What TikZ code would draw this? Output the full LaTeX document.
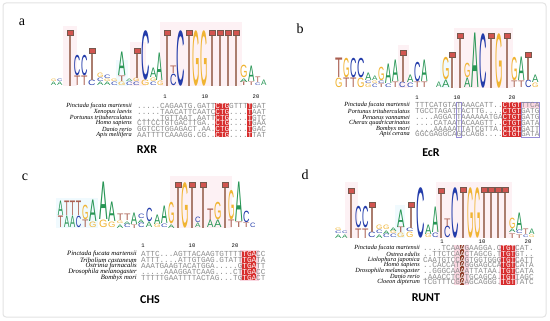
\documentclass[tikz,border=0pt]{standalone}
\usepackage{fontspec}
\usepackage{graphicx}
\setmainfont{Liberation Serif}
\newfontfamily\logofont{Liberation Sans}
\newfontfamily\monof{Liberation Mono}
\newfontfamily\lblf{Carlito}
\definecolor{cA}{RGB}{40,150,85}
\definecolor{cC}{RGB}{35,60,170}
\definecolor{cG}{RGB}{240,180,50}
\definecolor{cT}{RGB}{170,95,80}
\definecolor{tstem}{RGB}{170,125,110}
\definecolor{tsq}{RGB}{210,85,80}
\definecolor{hlred}{RGB}{215,45,45}
\definecolor{hlbrown}{RGB}{140,60,40}
\definecolor{hlpink}{RGB}{250,215,225}
\definecolor{hlpurp}{RGB}{150,140,215}
\definecolor{seqgray}{RGB}{140,140,140}
\newcommand\LG[5]{\node[inner sep=0pt,outer sep=0pt,anchor=south west] at (#1,#3) {\resizebox*{#2pt}{#4pt}{\logofont\color{c#5}#5}};}
\newcommand\STK[3]{%
  \xdef\curb{\baseY}%
  \foreach \L/\H in {#3}{%
    \pgfmathsetmacro\hh{\H-0.5}%
    \pgfmathsetmacro\ww{#2-0.6}%
    \edef\tmp{\noexpand\LG{#1}{\ww}{\curb}{\hh}{\L}}\tmp
    \pgfmathsetmacro\nb{\curb-\H}%
    \xdef\curb{\nb}%
  }%
}
\newcommand\TT[3]{\fill[tstem] (#1-0.8,#2+5) rectangle (#1+0.8,#3);
  \filldraw[fill=tsq,draw=tstem!70!black,line width=0.3pt] (#1-2.8,#2) rectangle (#1+2.8,#2+5.6);}
\newcommand\hw[1]{\textcolor{white}{#1}}
\newcommand\HB[5]{\fill[#5] ({#1+(#3-1)*4.6},#2-2.6) rectangle ({#1+(#3-1+#4)*4.6},#2+2.6);}
\tikzset{
  seqrow/.style={anchor=west,inner sep=0pt,text=seqgray,font=\monof\fontsize{7.6667}{8}\selectfont},
  spname/.style={anchor=east,inner sep=0pt,font=\itshape\fontsize{6.3}{7}\selectfont},
  posnum/.style={inner sep=0pt,font=\monof\fontsize{5.5}{6}\selectfont},
  panlbl/.style={inner sep=0pt,font=\fontsize{14}{14}\selectfont},
  genelbl/.style={inner sep=0pt,font=\lblf\bfseries\fontsize{12}{12}\selectfont},
  faint/.style={fill=hlpink,opacity=0.35},
  faintc/.style={fill=cyan!6}
}
\begin{document}
\begin{tikzpicture}[x=1pt,y=-1pt]
\useasboundingbox (0,0) rectangle (550,321);
\fill[white] (0,0) rectangle (550,321);
\draw[gray!22,line width=1pt,rounded corners=3pt] (3,3) rectangle (546,317);

% ---------- faint backgrounds ----------
\fill[faint] (160,22) rectangle (242,86);
\fill[faint] (63,26) rectangle (77,86);
\fill[faint] (130,42) rectangle (146,86);
\fill[faintc] (116,60) rectangle (128,86);
\fill[faint] (454,28) rectangle (513,88);
\fill[faint] (398,45) rectangle (409,88);
\fill[faintc] (440,60) rectangle (452,88);
\fill[faint] (170,176) rectangle (232,228);
\fill[faintc] (56,198) rectangle (98,228);
\fill[faint] (345,182) rectangle (358,238);
\fill[faint] (436,182) rectangle (512,238);
\fill[faintc] (395,205) rectangle (405,238);

% ---------- panel labels ----------
\node[panlbl] (la) at (22,22) {a};
\node[panlbl] (lb) at (300,29) {b};
\node[panlbl] (lc) at (25,177) {c};
\node[panlbl] (ld) at (305,175) {d};

% ================= Panel a logo =================
\def\baseY{86}
\STK{51}{6}{A/4,G/3}
\STK{57}{6}{A/4,C/3}
\TT{70}{30}{86}
\STK{74}{7}{T/10,C/21}
\STK{81}{7}{T/10,C/21}
\STK{88}{8}{C/6}
\TT{92}{48}{80}
\STK{97}{7}{A/4,C/4,G/5}
\STK{104}{7}{A/4,G/3,C/4}
\STK{111}{7}{C/4,G/3}
\STK{118}{8}{G/4,T/6,A/24}
\STK{126}{7}{C/4,A/3}
\STK{133}{7}{C/4,G/4}
\TT{137}{48}{78}
\STK{141}{9}{G/6,C/50}
\STK{150}{7}{C/4,G/4,A/10}
\STK{157}{7}{G/5,A/28}
\TT{167}{30}{86}
\STK{170}{7}{C/12,T/8}
\STK{176}{9}{C/56}
\TT{189}{30}{86}
\STK{192}{8}{G/56}
\STK{200}{8}{G/56}
\TT{212}{30}{86}
\TT{220}{30}{86}
\TT{228}{30}{86}
\TT{236}{30}{86}
\STK{240}{8}{T/4,A/4,G/13}
\STK{248}{7}{T/4,A/16}
\STK{255}{6}{C/3,T/6}
\STK{261}{6}{A/6}

% panel a alignment
\node[posnum] (an1) at (165,97) {1};
\node[posnum] (an10) at (205,97) {10};
\node[posnum] (an20) at (256,97) {20};
\def\xa{137}
\foreach \yy in {106,112,117.5,123,129,134.5}{
  \HB{\xa}{\yy}{18}{3}{hlred}
  \HB{\xa}{\yy}{25}{1}{hlred}
}
\node[spname] (sa1) at (132,106) {Pinctada fucata martensii};
\node[spname] (sa2) at (132,112) {Xenopus laevis};
\node[spname] (sa3) at (132,117.5) {Portunus trituberculatus};
\node[spname] (sa4) at (132,123) {Homo sapiens};
\node[spname] (sa5) at (132,129) {Danio rerio};
\node[spname] (sa6) at (132,134.5) {Apis mellifera};
\node[seqrow] (qa1) at (\xa,106) {.....CAGAATG.GATT\hw{CTG}GTTT\hw{T}GAT};
\node[seqrow] (qa2) at (\xa,112) {.....TAACATTCAATC\hw{CTG}....\hw{T}AAT};
\node[seqrow] (qa3) at (\xa,117.5) {.....TGTTAAT.AATT\hw{CTG}....\hw{T}GTC};
\node[seqrow] (qa4) at (\xa,123) {CTTCCTGTGACTTGA..\hw{CTG}....\hw{T}GAA};
\node[seqrow] (qa5) at (\xa,129) {GGTCCTGGAGACT.AA.\hw{CTG}....\hw{T}GAC};
\node[seqrow] (qa6) at (\xa,134.5) {AATTTTCAAAGG.CG..\hw{CTG}....\hw{T}TAT};
\node[genelbl] (rxr) at (147,150) {RXR};

% ================= Panel b logo =================
\def\baseY{88}
\STK{335}{8}{G/10,T/20}
\STK{343}{7}{T/10,G/20}
\STK{350}{7}{T/10,C/20}
\STK{357}{8}{G/10,C/20}
\STK{365}{7}{G/4,C/3,A/8}
\STK{372}{6}{C/4,G/3,A/5}
\STK{378}{7}{T/4,C/3,G/14}
\STK{385}{7}{C/4,A/20}
\STK{392}{7}{T/6,A/22}
\STK{399}{7}{C/6}
\TT{403}{50}{82}
\STK{407}{7}{C/5,A/8}
\STK{414}{7}{T/6,C/20}
\STK{421}{7}{T/6,A/22}
\STK{436}{6}{A/6}
\STK{442}{8}{A/8,G/23}
\TT{452}{52}{88}
\TT{460}{33}{88}
\STK{464}{7}{A/10,G/15}
\STK{471}{8}{A/55}
\STK{479}{8}{C/55}
\TT{491}{33}{88}
\STK{495}{8}{G/55}
\TT{507}{33}{88}
\STK{511}{7}{T/7,G/24}
\STK{518}{7}{T/7,A/24}
\STK{525}{7}{C/8}
\TT{528}{52}{80}
\STK{532}{7}{G/5,A/8}

% panel b alignment
\node[posnum] (bn1) at (417,98) {1};
\node[posnum] (bn10) at (457,98) {10};
\node[posnum] (bn20) at (512,98) {20};
\def\xb{415}
\fill[hlred] ({\xb+19*4.6},102) rectangle ({\xb+23*4.6},137);
\fill[hlpink] ({\xb+23*4.6},102.4) rectangle ({\xb+27*4.6},107.6);
\draw[hlpurp,line width=0.5pt] ({\xb+23*4.6},102) rectangle ({\xb+27*4.6},137);
\draw[hlpurp,line width=0.5pt] ({\xb+9*4.6},102) rectangle ({\xb+10*4.6},137);
\node[spname] (sb1) at (410,105) {Pinctada fucata martensii};
\node[spname] (sb2) at (410,111) {Portunus trituberculatus};
\node[spname] (sb3) at (410,117) {Penaeus vannamei};
\node[spname] (sb4) at (410,123) {Cherax quadricarinatus};
\node[spname] (sb5) at (410,128.5) {Bombyx mori};
\node[spname] (sb6) at (410,134) {Apis cerana};
\node[seqrow] (qb1) at (\xb,105) {TTTCATGTATAAACATT..\hw{CTGT}TTCA};
\node[seqrow] (qb2) at (\xb,111) {TGCCTAGATTACTTG....\hw{CTGT}GATG};
\node[seqrow] (qb3) at (\xb,117) {....AGGATTAAAAAATGA\hw{CTGT}GATG};
\node[seqrow] (qb4) at (\xb,123) {....CATAATACAAGTT..\hw{CTGT}GATA};
\node[seqrow] (qb5) at (\xb,128.5) {....AAAAATTATCGTTA.\hw{CTGT}GATT};
\node[seqrow] (qb6) at (\xb,134) {GGCGAGGCAGCCAGG....\hw{CTGT}GATA};
\node[genelbl] (ecr) at (431,153) {EcR};

% ================= Panel c logo =================
\def\baseY{228}
\STK{58}{6}{T/12,A/15}
\STK{64}{6}{A/12,T/15}
\STK{70}{6}{A/12,T/15}
\STK{76}{6}{C/12,T/15}
\STK{82}{7}{T/8,G/15}
\STK{89}{8}{G/6,A/22}
\STK{99}{9}{G/8,A/38}
\STK{108}{8}{G/6,A/20}
\STK{117}{7}{A/4,G/3,T/7}
\STK{124}{7}{C/4,A/3,T/7}
\STK{131}{7}{T/4,A/12}
\STK{138}{7}{C/5,A/4,C/5}
\STK{146}{7}{A/6,C/14}
\STK{154}{7}{G/4,A/10}
\STK{161}{7}{C/4,A/18}
\STK{168}{7}{A/4,G/22}
\TT{178}{182}{228}
\STK{181}{8}{G/46}
\TT{192}{182}{228}
\STK{195}{6}{A/5,C/6}
\TT{203}{182}{228}
\STK{207}{7}{A/8,T/12}
\STK{214}{8}{A/8,G/18}
\TT{225}{182}{228}
\STK{228}{7}{T/8,G/30}
\STK{235}{8}{T/6,A/40}
\STK{243}{7}{T/5,C/12}
\STK{250}{6}{C/5}

% panel c alignment
\node[posnum] (cn1) at (143,246) {1};
\node[posnum] (cn10) at (192,246) {10};
\node[posnum] (cn20) at (235,246) {20};
\def\xc{141}
\fill[hlpink] ({\xc+21.6*4.6},250) rectangle ({\xc+25.6*4.6},281);
\foreach \yy in {254,260,266,272,277.5}{
  \HB{\xc}{\yy}{23}{3}{hlred}
}
\node[spname,font=\itshape\fontsize{6.7}{7}\selectfont] (sc1) at (137,254) {Pinctada fucata martensii};
\node[spname,font=\itshape\fontsize{6.7}{7}\selectfont] (sc2) at (137,260) {Tribolium castaneum};
\node[spname,font=\itshape\fontsize{6.7}{7}\selectfont] (sc3) at (137,266) {Ostrinia furnacalis};
\node[spname,font=\itshape\fontsize{6.7}{7}\selectfont] (sc4) at (137,272) {Drosophila melanogaster};
\node[spname,font=\itshape\fontsize{6.7}{7}\selectfont] (sc5) at (137,277.5) {Bombyx mori};
\node[seqrow] (qc1) at (\xc,254) {ATTC...AGTTACAAGTGTTTT\hw{TGA}CC};
\node[seqrow] (qc2) at (\xc,260) {ATTT....ATTGTGAG.GTATT\hw{TGA}TA};
\node[seqrow] (qc3) at (\xc,266) {AAATGAAGTACATGGA.....G\hw{TGA}TT};
\node[seqrow] (qc4) at (\xc,272) {.....AAAGGATCAAG....CT\hw{TGA}CC};
\node[seqrow] (qc5) at (\xc,277.5) {TTTTTGAATTTTACTAG...TG\hw{TGA}CT};
\node[genelbl] (chs) at (150,300) {CHS};

% ================= Panel d logo =================
\def\baseY{238}
\STK{335}{7}{A/4,C/3,G/3}
\STK{342}{6}{A/4,C/3}
\TT{351}{188}{238}
\STK{355}{7}{T/10,C/22}
\STK{362}{7}{T/10,C/22}
\STK{368}{8}{C/6}
\TT{372}{202}{232}
\STK{376}{7}{A/4,C/4,G/5}
\STK{383}{7}{C/4,A/4,G/5}
\STK{390}{7}{C/4,G/3,A/4}
\STK{397}{8}{G/5,T/6,A/18}
\STK{406}{8}{G/6,C/4}
\TT{411}{202}{228}
\STK{416}{9}{C/51}
\STK{425}{7}{G/4,A/10}
\STK{432}{7}{C/5,A/26}
\TT{441}{188}{238}
\STK{444}{7}{C/12,T/8}
\STK{451}{8}{C/51}
\TT{463}{187}{238}
\STK{467}{7}{G/51}
\STK{474}{7}{G/51}
\TT{484}{187}{238}
\TT{491}{187}{238}
\TT{498}{187}{238}
\TT{505}{187}{238}
\STK{509}{7}{T/5,A/4,G/11}
\STK{516}{7}{T/4,C/4,A/18}
\STK{523}{6}{C/3,T/6}
\STK{529}{6}{G/3,A/6}

% panel d alignment
\node[posnum] (dn1) at (442,242) {1};
\node[posnum] (dn10) at (482,242) {10};
\node[posnum] (dn20) at (528,242) {20};
\def\xd{423}
\fill[hlpink] ({\xd+6.8*4.6},245) rectangle ({\xd+10*4.6},285);
\fill[hlpink] ({\xd+16.6*4.6},245) rectangle ({\xd+20.4*4.6},285);
\foreach \yy in {248,254,259.5,265,271,276.5,282}{
  \HB{\xd}{\yy}{9}{1}{hlbrown}
  \HB{\xd}{\yy}{18}{3}{hlred}
}
\node[spname] (sd1) at (420,248) {Pinctada fucata martensii};
\node[spname] (sd2) at (420,254) {Ostrea edulis};
\node[spname] (sd3) at (420,259.5) {Liolophura japonica};
\node[spname] (sd4) at (420,265) {Homo sapiens};
\node[spname] (sd5) at (420,271) {Drosophila melanogaster};
\node[spname] (sd6) at (420,276.5) {Danio rerio};
\node[spname] (sd7) at (420,282) {Cloeon dipterum};
\node[seqrow] (qd1) at (\xd,248) {....TCAA\hw{A}GAAGGA.C\hw{TGT}CAT.};
\node[seqrow] (qd2) at (\xd,254) {..TTCTCA\hw{A}CTAGCG.T\hw{TGT}GT..};
\node[seqrow] (qd3) at (\xd,259.5) {CAATGTCC\hw{A}GTGGTGGG\hw{TGT}CATT};
\node[seqrow] (qd4) at (\xd,265) {..CACCAT\hw{A}GGGAGCCA\hw{TGT}CATA};
\node[seqrow] (qd5) at (\xd,271) {..GGGCAA\hw{A}ATTATAA.\hw{TGT}CATA};
\node[seqrow] (qd6) at (\xd,276.5) {.AAACCTC\hw{A}TGCAGCA.\hw{TGT}TAGC};
\node[seqrow] (qd7) at (\xd,282) {TCGTTTCG\hw{A}AGCAGGG.\hw{TGT}TATC};
\node[genelbl] (runt) at (426,298) {RUNT};
\end{tikzpicture}
\end{document}
